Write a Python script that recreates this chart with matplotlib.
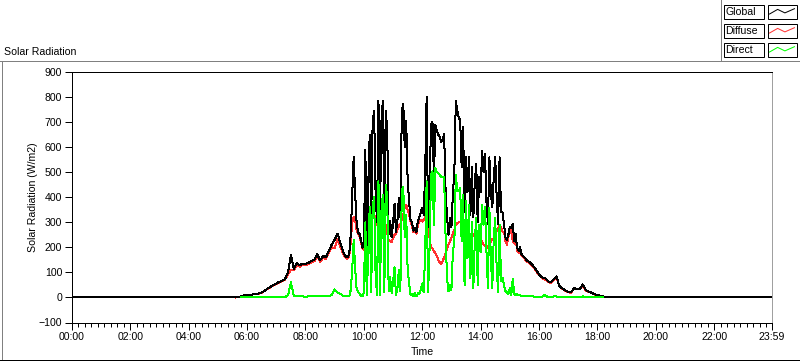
import numpy as np
import matplotlib
matplotlib.use("Agg")
import matplotlib.pyplot as plt
from matplotlib.patches import Rectangle
from matplotlib.lines import Line2D
from matplotlib.ticker import FixedLocator, FuncFormatter

# sampling grid in decimal hours: 6 min steps morning/evening, 3 min around noon
MORNING_START, MORNING_STEP = 5.6, 0.1
MIDDAY_START, MIDDAY_STEP = 9.45, 0.05
EVENING_START, EVENING_STEP = 15.6, 0.1
DIRECT_START = 5.8          # green trace starts a little later
DAY_END = 23 + 59 / 60.0

# Global (W/m2)
global_morning = [0, 2, 4, 8, 10, 11, 12, 13, 16, 20,
                  27, 35, 42, 50, 56, 62, 66, 74, 100, 170,
                  115, 138, 128, 135, 134, 138, 145, 150, 172, 148,
                  165, 160, 186, 212, 230, 255, 214, 179, 160]
global_midday = [162, 174, 250, 406, 560, 420, 300, 260, 254, 230,
                 199, 214, 590, 190, 450, 650, 300, 700, 746, 420,
                 300, 786, 306, 700, 786, 320, 746, 666, 254, 306,
                 240, 294, 373, 262, 306, 399, 319, 746, 774, 600,
                 706, 466, 386, 306, 300, 266, 279, 260, 306, 319,
                 340, 359, 330, 500, 800, 280, 426, 693, 700, 480,
                 690, 666, 650, 640, 620, 630, 653, 426, 319, 250,
                 319, 280, 413, 500, 786, 746, 720, 706, 520, 680,
                 340, 559, 420, 559, 330, 520, 319, 460, 532, 300,
                 480, 420, 586, 500, 572, 380, 294, 559, 420, 359,
                 480, 559, 400, 294, 559, 340, 340, 294, 240, 230,
                 250, 280, 279, 294, 226, 253, 199, 186, 200, 173,
                 166, 160]
global_evening = [146, 139, 126, 110, 92, 80, 79, 66, 60, 72,
                  84, 45, 36, 28, 22, 20, 37, 34, 34, 52,
                  29, 23, 19, 13, 10, 7, 4, 1, 0, 0]

# Diffuse (W/m2)
diffuse_morning = [0, 2, 4, 8, 10, 11, 12, 12, 15, 19,
                   26, 34, 40, 48, 54, 60, 64, 72, 92, 110,
                   108, 132, 122, 130, 130, 133, 140, 144, 165, 142,
                   158, 154, 178, 200, 198, 235, 200, 172, 155]
diffuse_midday = [156, 168, 220, 300, 320, 310, 270, 255, 245, 222,
                  195, 190, 250, 182, 280, 300, 280, 340, 330, 320,
                  290, 320, 300, 360, 370, 300, 290, 260, 228, 225,
                  222, 235, 250, 255, 270, 285, 295, 310, 330, 360,
                  370, 350, 330, 300, 285, 260, 262, 255, 290, 305,
                  310, 303, 310, 320, 320, 260, 237, 200, 195, 185,
                  175, 165, 150, 140, 135, 145, 160, 175, 197, 210,
                  223, 240, 255, 270, 290, 297, 300, 303, 300, 292,
                  290, 280, 275, 250, 237, 240, 250, 255, 263, 255,
                  240, 237, 220, 210, 205, 197, 200, 215, 223, 232,
                  237, 250, 263, 275, 290, 280, 262, 263, 226, 210,
                  240, 260, 270, 225, 215, 243, 186, 178, 190, 168,
                  161, 155]
diffuse_evening = [142, 135, 122, 106, 89, 78, 72, 64, 58, 68,
                   80, 43, 35, 27, 21, 19, 35, 33, 33, 48,
                   28, 22, 18, 12, 10, 7, 4, 1, 0, 0]

# Direct (W/m2)
direct_morning = [0, 0, 0, 0, 0, 1, 1, 1,
                  1, 1, 2, 2, 2, 2, 2, 2, 8, 60,
                  6, 5, 4, 4, 3, 4, 4, 5, 6, 5,
                  5, 5, 6, 10, 32, 20, 14, 6, 4]
direct_midday = [4, 4, 30, 110, 230, 120, 35, 22, 15, 8,
                 5, 20, 300, 8, 170, 360, 20, 360, 400, 100,
                 10, 464, 8, 340, 410, 20, 450, 400, 24, 80,
                 18, 60, 120, 8, 36, 110, 24, 430, 440, 240,
                 330, 110, 56, 10, 15, 6, 18, 5, 16, 14,
                 30, 56, 20, 180, 464, 20, 190, 490, 504, 290,
                 517, 500, 495, 490, 480, 480, 480, 240, 77, 24,
                 50, 30, 184, 220, 490, 424, 424, 437, 224, 410,
                 50, 384, 157, 370, 77, 300, 37, 224, 317, 50,
                 290, 180, 370, 290, 360, 184, 37, 357, 157, 37,
                 240, 317, 117, 20, 290, 66, 79, 50, 26, 20,
                 12, 37, 10, 74, 14, 10, 14, 8, 10, 5,
                 5, 5]
direct_evening = [4, 4, 4, 3, 3, 2, 10, 2, 2, 4,
                  4, 2, 1, 1, 1, 1, 2, 1, 1, 4,
                  1, 1, 1, 1, 0, 0, 0]

series_names = ["Global", "Diffuse", "Direct"]
series_colors = ["#000000", "#ff3030", "#00ff00"]


def grid(start, step, values):
    return start + step * np.arange(len(values))


def hhmm(h, pos=None):
    m = int(round(h * 60))
    return "%02d:%02d" % (m // 60, m % 60)


t_global = np.concatenate([[0.0],
                           grid(MORNING_START, MORNING_STEP, global_morning),
                           grid(MIDDAY_START, MIDDAY_STEP, global_midday),
                           grid(EVENING_START, EVENING_STEP, global_evening),
                           [DAY_END]])
v_global = np.concatenate([[0], global_morning, global_midday, global_evening, [0]])

t_diffuse = np.concatenate([grid(MORNING_START, MORNING_STEP, diffuse_morning),
                            grid(MIDDAY_START, MIDDAY_STEP, diffuse_midday),
                            grid(EVENING_START, EVENING_STEP, diffuse_evening)])
v_diffuse = np.concatenate([diffuse_morning, diffuse_midday, diffuse_evening])

t_direct = np.concatenate([grid(DIRECT_START, MORNING_STEP, direct_morning),
                           grid(MIDDAY_START, MIDDAY_STEP, direct_midday),
                           grid(EVENING_START, EVENING_STEP, direct_evening)])
v_direct = np.concatenate([direct_morning, direct_midday, direct_evening])

W, H = 800, 361
plt.rcParams['font.family'] = ['Liberation Sans', 'DejaVu Sans']
FS = 7.6
LW = 0.72  # one pixel

fig = plt.figure(figsize=(W / 100, H / 100), dpi=100)
fig.patch.set_facecolor("white")


def fx(px):
    return px / W


def fy(py):
    return 1 - py / H


ax = fig.add_axes([fx(72), fy(322.5), fx(772) - fx(72), fy(72) - fy(322.5)])

ax.plot(t_diffuse, v_diffuse, color=series_colors[1], lw=LW, antialiased=False, zorder=2)
ax.plot(t_global, v_global, color=series_colors[0], lw=LW, antialiased=False, zorder=3)
ax.plot(t_direct, v_direct, color=series_colors[2], lw=LW, antialiased=False, zorder=4)

ax.set_xlim(0, DAY_END)
ax.set_ylim(-100, 900)

majors = list(np.arange(0, 23, 2)) + [DAY_END]
ax.xaxis.set_major_locator(FixedLocator(majors))
ax.xaxis.set_major_formatter(FuncFormatter(hhmm))
ax.xaxis.set_minor_locator(FixedLocator(np.arange(0, DAY_END - 0.05, 2 / 9.0)))
ax.yaxis.set_major_locator(FixedLocator(np.arange(-100, 901, 100)))

ax.tick_params(axis="both", which="major", direction="out", length=5, width=LW,
               labelsize=FS, pad=2)
ax.tick_params(axis="x", which="minor", direction="out", length=3, width=LW)
ax.tick_params(axis="y", which="minor", left=False)

for side in ["left", "bottom", "top"]:
    ax.spines[side].set_color("black")
    ax.spines[side].set_linewidth(LW)
ax.spines["right"].set_color("#a0a0a0")
ax.spines["right"].set_linewidth(LW)

fig.text(fx(4), fy(52), "Solar Radiation", fontsize=FS, ha="left", va="center")
fig.text(fx(33), fy(197), "Solar Radiation (W/m2)", fontsize=FS, rotation=90,
         ha="center", va="center")
fig.text(fx(422), fy(352), "Time", fontsize=FS, ha="center", va="center")

# outer panel frame
frame = [((0, 60.5), (800, 60.5), "#808080"),
         ((1.5, 60.5), (1.5, 359.5), "#808080"),
         ((0, 359.5), (800, 359.5), "#000000"),
         ((799.5, 60.5), (799.5, 359.5), "#000000"),
         ((720.5, 0), (720.5, 60.5), "#808080")]
for (x0, y0), (x1, y1), c in frame:
    fig.add_artist(Line2D([fx(x0), fx(x1)], [fy(y0), fy(y1)], color=c, lw=LW,
                          transform=fig.transFigure))

# legend
row_tops = [4.5, 23.5, 42.5]
zig_x = [0.07, 0.35, 0.6, 0.93]
zig_y = [0.68, 0.35, 0.6, 0.3]
for name, color, top in zip(series_names, series_colors, row_tops):
    fig.add_artist(Rectangle((fx(723.5), fy(top + 14)), fx(40), 14 / H, fill=False,
                             edgecolor="black", lw=LW, transform=fig.transFigure))
    fig.add_artist(Rectangle((fx(767.5), fy(top + 14)), fx(29), 14 / H, fill=False,
                             edgecolor="black", lw=LW, transform=fig.transFigure))
    fig.text(fx(725.5), fy(top + 7.5), name, fontsize=FS, ha="left", va="center")
    fig.add_artist(Line2D([fx(767.5 + 29 * a) for a in zig_x],
                          [fy(top + 14 * b) for b in zig_y],
                          color=color, lw=LW, transform=fig.transFigure))

fig.savefig("out.png", dpi=100, facecolor="white")
